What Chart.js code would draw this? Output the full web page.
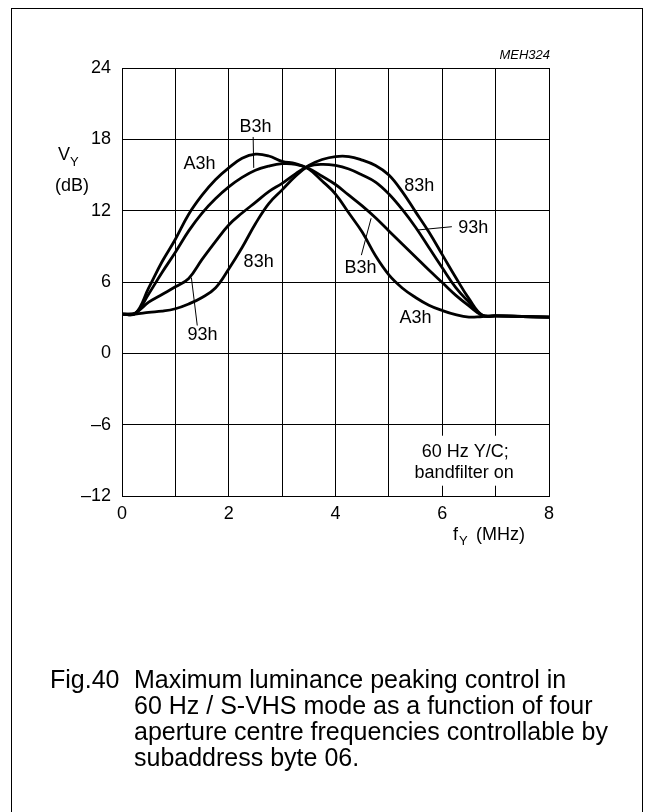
<!DOCTYPE html>
<html>
<head>
<meta charset="utf-8">
<script src="https://cdn.jsdelivr.net/npm/chart.js@4.4.1/dist/chart.umd.min.js"></script>
<style>
  body { margin: 0; background: #fff; }
  #wrap { position: relative; width: 655px; height: 812px; overflow: hidden; }
  #frame { position: absolute; left: 11px; top: 8px; width: 630px; height: 820px; border: 1.5px solid #000; }
  canvas { position: absolute; left: 0; top: 0; }
  .cap { position: absolute; font-family: "Liberation Sans", Arial, sans-serif; font-size: 25px; color: #000; white-space: nowrap; line-height: 26px; }
</style>
</head>
<body>
<div id="wrap">
  <div id="frame"></div>
  <canvas id="chart" width="655" height="812"></canvas>
  <div class="cap" style="left:50px; top:666px;">Fig.40</div>
  <div class="cap" style="left:134px; top:666px;">Maximum luminance peaking control in<br>60 Hz / S-VHS mode as a function of four<br>aperture centre frequencies controllable by<br>subaddress byte 06.</div>
</div>
<script>
// frequency grid (MHz) shared by all curves
var freq = [0, 0.25, 0.5, 0.75, 1, 1.25, 1.5, 1.75, 2, 2.25, 2.5, 2.75, 3, 3.25, 3.5, 3.75,
            4, 4.25, 4.5, 4.75, 5, 5.25, 5.5, 5.75, 6, 6.25, 6.5, 6.75, 7, 7.5, 8];

// V_Y (dB) per aperture setting
var vA3h = [3.3, 3.35, 5.5, 7.7, 9.6, 11.7, 13.3, 14.6, 15.6, 16.4, 16.75, 16.6, 16.15, 15.95, 15.5, 14.5,
            13.4, 11.8, 10.2, 8.2, 6.6, 5.5, 4.7, 4.05, 3.6, 3.25, 3.05, 3.1, 3.15, 3.1, 3.05];
var vB3h = [3.3, 3.35, 5.0, 6.8, 8.5, 10.3, 11.8, 13.0, 14.0, 14.8, 15.4, 15.75, 15.95, 15.9, 15.55, 14.9,
            14.2, 13.3, 12.4, 11.4, 10.3, 9.2, 8.1, 7.0, 5.95, 4.9, 4.0, 3.2, 3.15, 3.1, 3.05];
var v93h = [3.3, 3.4, 4.3, 4.95, 5.6, 6.3, 7.9, 9.4, 10.8, 11.8, 12.7, 13.6, 14.3, 15.1, 15.75, 15.9,
            15.8, 15.5, 15.0, 14.4, 13.4, 12.1, 10.6, 8.9, 7.2, 5.55, 4.3, 3.2, 3.15, 3.1, 3.05];
var v83h = [3.3, 3.3, 3.45, 3.55, 3.75, 4.15, 4.7, 5.5, 7.1, 8.9, 10.9, 12.6, 13.75, 14.9, 15.8, 16.3,
            16.55, 16.55, 16.25, 15.8, 15.0, 13.6, 11.9, 10.2, 8.3, 6.4, 4.6, 3.2, 3.15, 3.1, 3.05];

var yTicks = [-12, -6, 0, 6, 12, 18, 24];
var xLabels = [0, 2, 4, 6, 8];

// curve labels: [text, x, y, leader from x, y, leader to x, y] in data units
var notes = [
  ['B3h', 2.50, 19.0, 2.457, 18.2, 2.468, 15.6],
  ['A3h', 1.45, 15.95],
  ['83h', 5.57, 14.09],
  ['93h', 6.58, 10.54, 6.18, 10.65, 5.53, 10.37],
  ['83h', 2.56, 7.67],
  ['B3h', 4.47, 7.16, 4.485, 8.26, 4.667, 11.36],
  ['93h', 1.51, 1.50, 1.41, 2.34, 1.30, 6.37],
  ['A3h', 5.50, 2.93]
];

function pts(v) {
  return freq.map(function(f, i) { return {x: f, y: v[i]}; });
}

function ds(name, v) {
  return {
    label: name,
    data: pts(v),
    borderColor: '#000',
    borderWidth: 2.8,
    pointRadius: 0,
    fill: false,
    tension: 0.4
  };
}

var FONT = '"Liberation Sans", Arial, sans-serif';

var annotate = {
  id: 'annotate',
  afterDatasetsDraw: function(chart) {
    var c = chart.ctx, xs = chart.scales.x, ys = chart.scales.y;
    c.save();
    c.fillStyle = '#000';
    c.strokeStyle = '#000';
    c.textAlign = 'center';
    c.textBaseline = 'middle';
    c.font = '18px ' + FONT;
    notes.forEach(function(n) {
      c.fillText(n[0], xs.getPixelForValue(n[1]), ys.getPixelForValue(n[2]));
      if (n.length > 3) {
        c.lineWidth = 1;
        c.beginPath();
        c.moveTo(xs.getPixelForValue(n[3]), ys.getPixelForValue(n[4]));
        c.lineTo(xs.getPixelForValue(n[5]), ys.getPixelForValue(n[6]));
        c.stroke();
      }
    });

    // condition box (hides the grid behind the text, keeps the bottom axis)
    var bx = xs.getPixelForValue(6.41), by = ys.getPixelForValue(-9.2);
    c.fillStyle = '#fff';
    c.fillRect(bx - 56, by - 27, 112, 50);
    c.fillStyle = '#000';
    c.fillText('60 Hz Y/C;', xs.getPixelForValue(6.43), ys.getPixelForValue(-8.3));
    c.fillText('bandfilter on', xs.getPixelForValue(6.41), ys.getPixelForValue(-10.1));

    // figure code
    c.font = 'italic 13px ' + FONT;
    c.textAlign = 'right';
    c.fillText('MEH324', chart.chartArea.right + 1, chart.chartArea.top - 13);

    // axis titles
    c.font = '18px ' + FONT;
    c.textAlign = 'left';
    c.fillText('V', 58, 155);
    c.font = '13px ' + FONT;
    c.fillText('Y', 70, 162);
    c.font = '18px ' + FONT;
    c.fillText('(dB)', 55, 186);

    c.fillText('f', 453, 535);
    c.font = '13px ' + FONT;
    c.fillText('Y', 459, 541);
    c.font = '18px ' + FONT;
    c.fillText('(MHz)', 476, 535);
    c.restore();
  }
};

new Chart(document.getElementById('chart').getContext('2d'), {
  type: 'line',
  data: {
    datasets: [ds('A3h', vA3h), ds('B3h', vB3h), ds('93h', v93h), ds('83h', v83h)]
  },
  options: {
    responsive: false,
    animation: false,
    devicePixelRatio: 1,
    layout: { padding: { left: 0, right: 106, top: 68, bottom: 276 } },
    plugins: { legend: { display: false }, tooltip: { enabled: false } },
    scales: {
      x: {
        type: 'linear',
        min: 0, max: 8,
        afterFit: function(s) { s.height = 40; },
        grid: { color: '#000', lineWidth: 1, drawTicks: false },
        border: { color: '#000', width: 1 },
        ticks: {
          stepSize: 1,
          padding: 7,
          color: '#000',
          font: { family: FONT, size: 18 },
          maxRotation: 0,
          autoSkip: false,
          callback: function(v) { return xLabels.indexOf(v) >= 0 ? String(v) : ''; }
        }
      },
      y: {
        min: -12, max: 24,
        afterFit: function(s) { s.width = 122; },
        grid: { color: '#000', lineWidth: 1, drawTicks: false },
        border: { color: '#000', width: 1 },
        afterBuildTicks: function(s) { s.ticks = yTicks.map(function(v) { return {value: v}; }); },
        ticks: {
          padding: 11,
          color: '#000',
          font: { family: FONT, size: 18 },
          callback: function(v) { return v < 0 ? '\u2013' + Math.abs(v) : String(v); }
        }
      }
    }
  },
  plugins: [annotate]
});
</script>
</body>
</html>
